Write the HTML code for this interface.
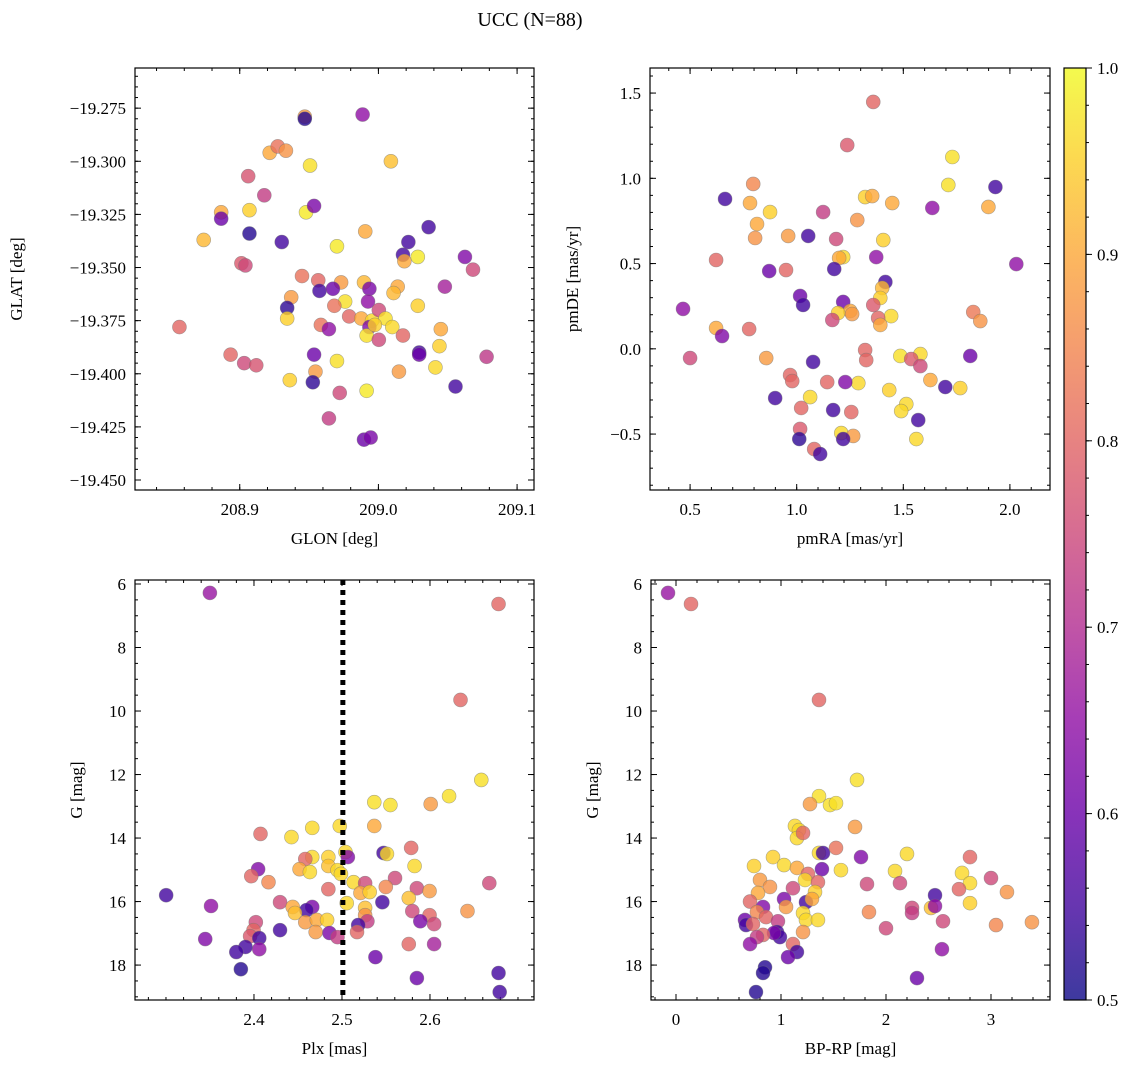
<!DOCTYPE html>
<html><head><meta charset="utf-8"><style>
html,body{margin:0;padding:0;background:#fff;}
svg{display:block;font-family:"Liberation Serif",serif;}
</style></head><body>
<svg id="fig" width="1136" height="1067" viewBox="0 0 1136 1067" xmlns="http://www.w3.org/2000/svg">
<defs>
<linearGradient id="cbgrad" x1="0" y1="1" x2="0" y2="0">
<stop offset="0" stop-color="#0d0887"/><stop offset="0.1" stop-color="#41049d"/><stop offset="0.2" stop-color="#6a00a8"/><stop offset="0.3" stop-color="#8f0da4"/><stop offset="0.4" stop-color="#b12a90"/><stop offset="0.5" stop-color="#cc4778"/><stop offset="0.6" stop-color="#e16462"/><stop offset="0.7" stop-color="#f2844b"/><stop offset="0.8" stop-color="#fca636"/><stop offset="0.9" stop-color="#fcce25"/><stop offset="1" stop-color="#f0f921"/>
</linearGradient>
</defs>
<text x="530" y="26" font-size="20" text-anchor="middle">UCC (N=88)</text>
</svg>
<script>
// Panel 1: GLON / GLAT
const p1Lon = [208.9469,208.9469,208.9886,208.9216,208.9274,208.9333,208.9507,209.0090,208.9061,208.9177,208.8866,208.9070,208.9478,208.9536,208.8866,208.8740,208.9070,208.9303,208.9905,209.0362,209.0216,208.9701,208.9012,208.9041,209.0177,209.0187,209.0284,209.0624,209.0682,208.9449,208.9566,208.9896,208.9731,208.9935,209.0139,209.0109,209.0479,208.9371,208.9575,208.9672,208.9760,208.9925,208.9342,209.0284,208.9342,208.9682,208.9789,208.9876,208.9954,208.9935,209.0003,209.0051,208.9585,208.9643,208.8565,208.9915,208.9974,209.0100,209.0003,209.0177,209.0450,209.0440,209.0294,209.0294,208.8934,208.9536,208.9701,208.9032,208.9119,209.0411,209.0780,209.0148,208.9546,208.9361,208.9527,209.0556,208.9915,208.9721,208.9643,208.9896,208.9944];
const p1Lat = [-19.279,-19.280,-19.278,-19.296,-19.293,-19.295,-19.302,-19.300,-19.307,-19.316,-19.324,-19.323,-19.324,-19.321,-19.327,-19.337,-19.334,-19.338,-19.333,-19.331,-19.338,-19.340,-19.348,-19.349,-19.344,-19.347,-19.345,-19.345,-19.351,-19.354,-19.356,-19.357,-19.357,-19.360,-19.359,-19.362,-19.359,-19.364,-19.361,-19.360,-19.366,-19.366,-19.369,-19.368,-19.374,-19.368,-19.373,-19.374,-19.375,-19.378,-19.370,-19.374,-19.377,-19.379,-19.378,-19.382,-19.377,-19.378,-19.384,-19.382,-19.379,-19.387,-19.390,-19.391,-19.391,-19.391,-19.394,-19.395,-19.396,-19.397,-19.392,-19.399,-19.399,-19.403,-19.404,-19.406,-19.408,-19.409,-19.421,-19.431,-19.430];
const p1Prob = [.88,.52,.65,.90,.82,.87,.97,.93,.77,.73,.90,.95,.98,.62,.60,.92,.52,.55,.90,.55,.55,.98,.78,.75,.55,.90,.98,.63,.75,.82,.80,.92,.88,.62,.90,.92,.68,.88,.55,.60,.97,.65,.53,.95,.95,.82,.80,.90,.96,.63,.75,.97,.82,.65,.80,.97,.95,.96,.75,.80,.90,.95,.55,.60,.80,.60,.97,.75,.77,.96,.72,.88,.88,.95,.53,.55,.98,.75,.73,.60,.62];
// Panel 2: pmRA / pmDE
const p2Ra = [1.359,1.237,1.730,1.711,1.932,0.796,0.664,0.781,0.875,1.124,1.321,1.354,1.448,1.636,1.899,1.284,0.814,1.054,0.960,1.185,1.406,0.805,1.373,1.218,1.199,0.622,2.030,0.950,0.871,1.176,1.416,1.401,1.016,1.392,1.218,1.030,1.359,0.467,1.828,1.251,1.194,1.260,1.443,1.382,1.167,1.861,1.392,0.622,0.777,0.650,1.321,0.857,0.500,1.077,1.326,1.486,1.580,1.537,1.814,1.580,0.969,0.979,1.627,1.289,1.143,1.228,1.434,1.767,1.697,1.063,0.899,1.514,1.490,1.021,1.171,1.256,1.570,1.016,1.209,1.265,1.012,1.218,1.561,1.082,1.110];
const p2De = [1.448,1.195,1.125,0.961,0.949,0.967,0.879,0.855,0.802,0.802,0.890,0.896,0.855,0.826,0.832,0.755,0.732,0.662,0.662,0.644,0.638,0.650,0.538,0.538,0.533,0.521,0.497,0.462,0.456,0.468,0.392,0.357,0.310,0.298,0.275,0.257,0.257,0.234,0.216,0.222,0.210,0.204,0.192,0.181,0.169,0.163,0.140,0.122,0.116,0.075,-0.007,-0.054,-0.054,-0.077,-0.066,-0.042,-0.031,-0.060,-0.042,-0.101,-0.154,-0.189,-0.183,-0.201,-0.195,-0.195,-0.242,-0.230,-0.224,-0.283,-0.289,-0.324,-0.365,-0.347,-0.359,-0.371,-0.418,-0.470,-0.494,-0.511,-0.529,-0.529,-0.529,-0.588,-0.617];
const p2Prob = [.80,.78,.97,.97,.55,.85,.55,.90,.95,.73,.95,.90,.90,.65,.90,.87,.90,.55,.88,.75,.95,.87,.65,.96,.90,.80,.65,.80,.60,.55,.55,.92,.60,.95,.60,.55,.78,.65,.83,.90,.95,.88,.96,.80,.75,.87,.90,.90,.80,.63,.80,.88,.75,.55,.80,.97,.96,.78,.60,.75,.80,.80,.90,.96,.80,.63,.95,.95,.55,.96,.55,.96,.96,.80,.55,.80,.55,.78,.96,.88,.53,.55,.96,.80,.55];
// Panel 3: Plx / G
const p3Plx = [2.3499,2.6779,2.6347,2.6583,2.5367,2.5550,2.6008,2.6217,2.4975,2.4662,2.4426,2.4074,2.5367,2.5040,2.5067,2.5472,2.5511,2.5786,2.5825,2.4662,2.4583,2.4845,2.4845,2.4518,2.4635,2.4949,2.4988,2.4047,2.3969,2.4165,2.5132,2.5263,2.5603,2.5498,2.5851,2.5995,2.6674,2.4845,2.5210,2.5315,2.3002,2.3512,2.4296,2.5054,2.5459,2.5263,2.5759,2.4440,2.4662,2.4596,2.4466,2.5263,2.5289,2.5184,2.5799,2.5995,2.6047,2.5890,2.6426,2.4583,2.4714,2.4831,2.4701,2.4858,2.4949,2.5171,2.4021,2.3995,2.3956,2.4060,2.4060,2.3446,2.4296,2.3904,2.3799,2.3851,2.5759,2.6047,2.5380,2.5851,2.6779,2.6792];
const p3G = [6.28,6.63,9.65,12.17,12.87,12.96,12.93,12.68,13.62,13.68,13.97,13.87,13.62,14.44,14.60,14.47,14.50,14.31,14.88,14.60,14.66,14.60,14.88,14.98,15.07,15.01,15.13,14.98,15.20,15.39,15.39,15.42,15.26,15.54,15.58,15.67,15.42,15.61,15.73,15.70,15.80,16.14,16.02,16.05,16.02,16.20,15.89,16.17,16.17,16.27,16.36,16.43,16.62,16.74,16.30,16.43,16.71,16.62,16.30,16.65,16.58,16.58,16.96,16.99,17.12,16.96,16.65,16.90,17.09,17.15,17.50,17.18,16.90,17.43,17.59,18.13,17.34,17.34,17.75,18.41,18.25,18.85];
const p3Prob = [.66,.80,.80,.97,.97,.97,.88,.97,.96,.96,.96,.80,.90,.96,.63,.55,.96,.80,.96,.96,.80,.95,.93,.90,.96,.96,.96,.63,.80,.85,.96,.75,.75,.85,.75,.88,.75,.80,.90,.95,.55,.65,.75,.96,.55,.93,.93,.90,.62,.55,.93,.87,.73,.55,.75,.80,.75,.62,.87,.88,.90,.95,.88,.62,.73,.80,.75,.80,.78,.55,.65,.63,.55,.55,.55,.52,.80,.68,.60,.60,.55,.55];
// Panel 4: BP-RP / G
const p4Color = [-0.076,0.143,1.362,1.724,1.362,1.276,1.467,1.524,1.705,1.133,1.171,1.152,1.210,1.362,1.400,1.524,1.762,2.200,0.924,0.743,1.029,1.152,1.257,1.390,1.571,2.086,2.133,1.819,0.800,0.895,0.781,1.114,1.229,1.352,1.324,0.705,1.029,1.238,1.295,1.048,0.829,0.771,0.857,0.657,0.667,0.733,0.971,1.210,1.238,1.352,0.962,0.990,0.933,0.829,0.771,0.705,1.210,1.114,1.152,1.067,0.848,0.829,0.762,1.838,2.0,2.248,2.248,2.429,2.467,2.467,2.543,2.533,2.295,2.724,2.800,2.695,2.800,2.800,3.0,3.152,3.048,3.390];
const p4G = [6.28,6.63,9.65,12.17,12.68,12.93,12.96,12.90,13.65,13.62,13.75,14.00,13.84,14.47,14.47,14.31,14.60,14.50,14.60,14.88,14.85,14.94,15.13,14.98,15.01,15.04,15.42,15.45,15.32,15.54,15.73,15.58,15.32,15.39,15.70,16.00,15.92,16.02,15.92,16.17,16.17,16.33,16.49,16.58,16.74,16.71,16.62,16.36,16.58,16.58,16.96,17.12,16.99,17.05,17.12,17.34,16.96,17.34,17.59,17.75,18.07,18.25,18.85,16.33,16.84,16.20,16.36,16.20,15.80,16.14,16.62,17.50,18.41,15.10,15.42,15.61,14.60,16.05,15.26,15.70,16.74,16.65];
const p4Prob = [.66,.80,.80,.97,.97,.88,.97,.97,.88,.96,.96,.96,.80,.96,.55,.82,.63,.96,.95,.95,.96,.90,.80,.60,.96,.96,.75,.75,.88,.87,.90,.75,.96,.80,.95,.80,.62,.55,.90,.88,.63,.85,.80,.60,.55,.80,.73,.96,.96,.96,.55,.55,.62,.80,.73,.65,.87,.80,.55,.60,.52,.52,.52,.85,.75,.75,.73,.93,.55,.65,.75,.65,.60,.96,.96,.80,.80,.95,.75,.87,.85,.87];
// Tick values
const p1XTicks = [208.9,209.0,209.1];
const p1YTicks = [-19.275,-19.300,-19.325,-19.350,-19.375,-19.400,-19.425,-19.450];
const p2XTicks = [0.5,1.0,1.5,2.0];
const p2YTicks = [-0.5,0.0,0.5,1.0,1.5];
const p3XTicks = [2.4,2.5,2.6];
const gTicks = [6,8,10,12,14,16,18];
const p4XTicks = [0,1,2,3];
const cbTicks = [0.5,0.6,0.7,0.8,0.9,1.0];
const plxLine = 2.501;

const svg = document.getElementById('fig');
const NS = 'http://www.w3.org/2000/svg';
function mk(tag, attrs, parent){
  const e = document.createElementNS(NS, tag);
  for (const k in attrs) e.setAttribute(k, attrs[k]);
  (parent||svg).appendChild(e);
  return e;
}
const stops = [[13,8,135],[65,4,157],[106,0,168],[143,13,164],[177,42,144],[204,71,120],[225,100,98],[242,132,75],[252,166,54],[252,206,37],[240,249,33]];
function plasma(v){
  let t = Math.max(0, Math.min(1, (v-0.5)/0.5));
  const f = t*10, i = Math.min(9, Math.floor(f)), r = f-i;
  const a = stops[i], b = stops[i+1];
  return 'rgb(' + [0,1,2].map(k => Math.round(a[k]+(b[k]-a[k])*r)).join(',') + ')';
}
function fmtMinus(s){ return s.replace('-', '\u2212'); }

function panel(cfg){
  const g = mk('g', {});
  
  
  const X = v => cfg.x0 + (v - cfg.xd[0])/(cfg.xd[1]-cfg.xd[0])*(cfg.x1-cfg.x0);
  const Y = cfg.invY
    ? v => cfg.y0 + (v - cfg.yd[0])/(cfg.yd[1]-cfg.yd[0])*(cfg.y1-cfg.y0)
    : v => cfg.y1 - (v - cfg.yd[0])/(cfg.yd[1]-cfg.yd[0])*(cfg.y1-cfg.y0);
  const tg = mk('g', {stroke:'#000','stroke-width':1}, g);
  
  
  const lo = Math.min(...cfg.xd), hi = Math.max(...cfg.xd);
  for (let v = Math.ceil(lo/cfg.xMinor)*cfg.xMinor; v <= hi; v += cfg.xMinor){
    const x = X(v);
    mk('line', {x1:x, x2:x, y1:cfg.y1, y2:cfg.y1-3}, tg);
    mk('line', {x1:x, x2:x, y1:cfg.y0, y2:cfg.y0+3}, tg);
  }
  const ylo = Math.min(...cfg.yd), yhi = Math.max(...cfg.yd);
  for (let v = Math.ceil(ylo/cfg.yMinor)*cfg.yMinor; v <= yhi; v += cfg.yMinor){
    const y = Y(v);
    mk('line', {x1:cfg.x0, x2:cfg.x0+3, y1:y, y2:y}, tg);
    mk('line', {x1:cfg.x1, x2:cfg.x1-3, y1:y, y2:y}, tg);
  }
  cfg.xTicks.forEach(v => {
    const x = X(v);
    mk('line', {x1:x, x2:x, y1:cfg.y1, y2:cfg.y1-6}, tg);
    mk('line', {x1:x, x2:x, y1:cfg.y0, y2:cfg.y0+6}, tg);
    const t = mk('text', {x:x, y:cfg.y1+25, 'font-size':17, 'text-anchor':'middle'}, g);
    
    
    t.textContent = fmtMinus(v.toFixed(cfg.xDec));
  });
  cfg.yTicks.forEach(v => {
    const y = Y(v);
    mk('line', {x1:cfg.x0, x2:cfg.x0+6, y1:y, y2:y}, tg);
    mk('line', {x1:cfg.x1, x2:cfg.x1-6, y1:y, y2:y}, tg);
    const t = mk('text', {x:cfg.x0-9, y:y+6, 'font-size':17, 'text-anchor':'end'}, g);
    
    
    t.textContent = fmtMinus(v.toFixed(cfg.yDec));
  });
  const pg = mk('g', {}, g);
  
  
  const n = Math.min(cfg.xs.length, cfg.ys.length, cfg.cs.length);
  for (let i = 0; i < n; i++){
    const c = mk('circle', {cx:X(cfg.xs[i]), cy:Y(cfg.ys[i]), r:7, fill:plasma(cfg.cs[i]), 'fill-opacity':0.8, stroke:'#777', 'stroke-opacity':0.6, 'stroke-width':0.6}, pg);
    
    
  }
  if (cfg.vline !== undefined){
    const l = mk('line', {x1:X(cfg.vline), x2:X(cfg.vline), y1:cfg.y0, y2:cfg.y1, stroke:'#000', 'stroke-width':5, 'stroke-dasharray':'5,5'}, g);
    
    
  }
  const fr = mk('rect', {x:cfg.x0, y:cfg.y0, width:cfg.x1-cfg.x0, height:cfg.y1-cfg.y0, fill:'none', stroke:'#000', 'stroke-width':1.2}, g);
  
  
  const xl = mk('text', {x:(cfg.x0+cfg.x1)/2, y:cfg.y1+54, 'font-size':17, 'text-anchor':'middle'}, g);
  
  
  xl.textContent = cfg.xLabel;
  const yx = cfg.yLabelX, yy = (cfg.y0+cfg.y1)/2;
  const yl = mk('text', {x:yx, y:yy, 'font-size':17, 'text-anchor':'middle', transform:'rotate(-90 '+yx+' '+yy+')'}, g);
  
  
  yl.textContent = cfg.yLabel;
}

panel({name:'glon-glat-panel', x0:135, x1:534, y0:68, y1:490, xd:[208.82446,209.1122], yd:[-19.4547,-19.2561],
  xs:p1Lon, ys:p1Lat, cs:p1Prob, xTicks:p1XTicks, yTicks:p1YTicks, xMinor:0.02, yMinor:0.005, xDec:1, yDec:3,
  xLabel:'GLON [deg]', yLabel:'GLAT [deg]', yLabelX:22});
panel({name:'pm-panel', x0:650, x1:1050, y0:68, y1:490, xd:[0.312,2.188], yd:[-0.828,1.647],
  xs:p2Ra, ys:p2De, cs:p2Prob, xTicks:p2XTicks, yTicks:p2YTicks, xMinor:0.1, yMinor:0.1, xDec:1, yDec:1,
  xLabel:'pmRA [mas/yr]', yLabel:'pmDE [mas/yr]', yLabelX:578});
panel({name:'plx-g-panel', x0:135, x1:534, y0:580, y1:1000, xd:[2.2648,2.7182], yd:[5.874,19.10], invY:true,
  xs:p3Plx, ys:p3G, cs:p3Prob, xTicks:p3XTicks, yTicks:gTicks, xMinor:0.02, yMinor:0.5, xDec:1, yDec:0,
  xLabel:'Plx [mas]', yLabel:'G [mag]', yLabelX:82, vline:plxLine});
panel({name:'cmd-panel', x0:651, x1:1050, y0:580, y1:1000, xd:[-0.238,3.562], yd:[5.874,19.10], invY:true,
  xs:p4Color, ys:p4G, cs:p4Prob, xTicks:p4XTicks, yTicks:gTicks, xMinor:0.2, yMinor:0.5, xDec:0, yDec:0,
  xLabel:'BP-RP [mag]', yLabel:'G [mag]', yLabelX:598});

const cb = mk('g', {});


const cbx0 = 1064, cbx1 = 1086, cby0 = 68, cby1 = 1000;
mk('rect', {x:cbx0, y:cby0, width:cbx1-cbx0, height:cby1-cby0, fill:'url(#cbgrad)', 'fill-opacity':0.8, stroke:'none'}, cb);
mk('rect', {x:cbx0, y:cby0, width:cbx1-cbx0, height:cby1-cby0, fill:'none', stroke:'#000', 'stroke-width':1.2}, cb);
const CY = v => cby1 - (v-0.5)/0.5*(cby1-cby0);
for (let v = 0.52; v < 1.0; v += 0.02){
  mk('line', {x1:cbx1, x2:cbx1+3, y1:CY(v), y2:CY(v), stroke:'#000'}, cb);
}
cbTicks.forEach(v => {
  mk('line', {x1:cbx1, x2:cbx1+6, y1:CY(v), y2:CY(v), stroke:'#000'}, cb);
  const t = mk('text', {x:cbx1+11, y:CY(v)+6, 'font-size':17}, cb);
  
  
  t.textContent = v.toFixed(1);
});
</script>
</body></html>
